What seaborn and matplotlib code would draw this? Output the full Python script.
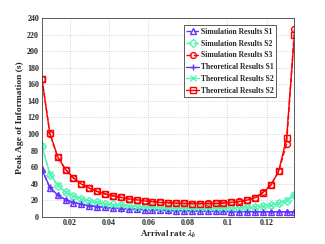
import numpy as np
import pandas as pd
import matplotlib
matplotlib.use('Agg')
import matplotlib.pyplot as plt
import seaborn as sns
from matplotlib.ticker import FormatStrFormatter

# arrival rate lambda_b
lam = [0.006 + 0.004 * i for i in range(33)]

theory_s1 = [57, 35.5, 26, 20.5, 17.5, 15, 13.5, 12.3, 11.3, 10.5, 9.8, 9.3, 8.8, 8.4, 8, 7.7,
             7.4, 7.2, 7, 6.8, 6.7, 6.5, 6.4, 6.3, 6.2, 6.1, 6.1, 6, 6, 6, 6, 6, 6]
sim_s1 = [58, 35, 26.5, 20.5, 17, 15.2, 13.5, 12, 11.4, 10.4, 9.9, 9.2, 8.9, 8.3, 8.1, 7.6,
          7.5, 7.1, 7, 6.9, 6.6, 6.5, 6.4, 6.3, 6.2, 6.1, 6, 6.1, 6, 6, 6.1, 6, 6]

theory_s2 = [86, 52, 38, 30, 25.3, 21.6, 19.2, 17.2, 15.9, 14.7, 13.9, 13, 12.3, 11.7, 11.2, 10.8,
             10.5, 10.2, 10, 10, 10, 10, 10.1, 10.3, 10.6, 11, 11.5, 12.2, 13, 14.3, 16.3, 20, 26]
sim_s2 = [85, 51, 37.5, 29.5, 25, 21.8, 19, 17.4, 15.7, 14.8, 13.8, 13.1, 12.2, 11.8, 11.1, 10.9,
          10.4, 10.3, 10, 10.1, 9.9, 10, 10.2, 10.2, 10.7, 10.9, 11.6, 12.1, 13.2, 14.1, 16.5, 19.5, 26.5]

theory_s3 = [167, 101, 72.5, 57, 47, 39.5, 34.5, 30.5, 27.5, 25.3, 23.3, 21.5, 20.4, 19, 18, 17.2,
             16.7, 16.3, 16, 15.9, 15.9, 15.9, 16, 16.5, 17.3, 18.3, 20, 23, 29, 38, 55, 95, 220]
sim_s3 = [167, 100.5, 72, 57, 46.5, 39.5, 34.5, 30.5, 27.5, 25, 23.3, 21.3, 20.4, 19, 18.2, 17.2,
          16.7, 16.2, 16, 15.9, 15.8, 16, 16.1, 16.5, 17.2, 18.4, 20, 22.9, 29.4, 38.4, 54.7, 88, 227]

blue = '#6633ff'
green = '#55f5b5'
red = '#ff0000'

sns.set_style('white')
plt.rcParams['font.family'] = ['Liberation Serif', 'DejaVu Serif']
plt.rcParams['font.weight'] = 'bold'
plt.rcParams['mathtext.fontset'] = 'stix'

fig = plt.figure(figsize=(3.25, 2.44), dpi=100)
ax = fig.add_axes([0.129, 0.112, 0.777, 0.813])

series = [
    (sim_s1, blue, '^', '--', 'Simulation Results S1'),
    (sim_s2, green, 'D', '--', 'Simulation Results S2'),
    (sim_s3, red, 'o', '--', 'Simulation Results S3'),
    (theory_s1, blue, '+', '-', 'Theoretical Results S1'),
    (theory_s2, green, 'x', '-', 'Theoretical Results S2'),
    (theory_s3, red, 's', '-', 'Theoretical Results S2'),
]

for vals, col, mk, ls, lab in series:
    df = pd.DataFrame({'lam': lam, 'paoi': vals})
    ms = 4.2 if mk in ('o',) else 3.8
    sns.lineplot(data=df, x='lam', y='paoi', ax=ax, color=col, marker=mk, linestyle=ls,
                 linewidth=1.0, markersize=ms, markerfacecolor='none',
                 markeredgecolor=col, markeredgewidth=1.0, label=lab)

ax.set_xlim(0.006, 0.134)
ax.set_ylim(0, 240)
ax.set_xticks([0.02, 0.04, 0.06, 0.08, 0.1, 0.12])
ax.set_yticks(np.arange(0, 241, 20))
ax.xaxis.set_major_formatter(FormatStrFormatter('%g'))
ax.tick_params(labelsize=5.8, length=2, direction='in', pad=2)
for t in ax.get_xticklabels() + ax.get_yticklabels():
    t.set_fontweight('bold')
ax.grid(True, color='#c8c8c8', linestyle=':', linewidth=0.6)
for s in ax.spines.values():
    s.set_color('#404040')
    s.set_linewidth(0.6)

ax.set_xlabel(r'Arrival rate $\lambda_b$', fontsize=6.3, fontweight='bold', labelpad=1)
ax.set_ylabel('Peak Age of Information (s)', fontsize=6.8, fontweight='bold', labelpad=2)

leg = ax.legend(loc='upper right', bbox_to_anchor=(0.927, 0.966), fontsize=5.5, frameon=True,
                fancybox=False, edgecolor='#404040', framealpha=1, handlelength=1.6,
                borderpad=0.35, labelspacing=0.5, handletextpad=0.25, borderaxespad=0)
leg.get_frame().set_linewidth(0.6)
for t in leg.get_texts():
    t.set_fontweight('bold')

fig.savefig('out.png', dpi=100)
